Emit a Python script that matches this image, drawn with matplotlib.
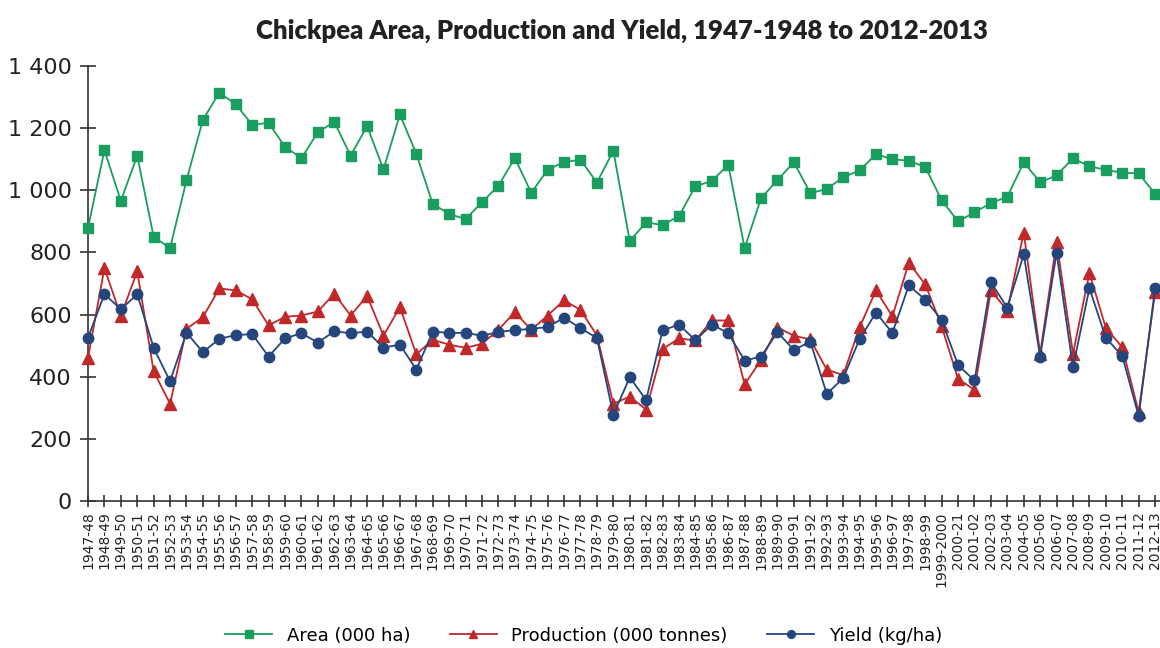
#Grafica de superficie, produccion y rendimiento del garbanzo

import matplotlib
matplotlib.use("Agg")
import matplotlib.pyplot as plt
from matplotlib.ticker import FuncFormatter

#Datos

years = ["1947-48", "1948-49", "1949-50", "1950-51", "1951-52", "1952-53", "1953-54",
         "1954-55", "1955-56", "1956-57", "1957-58", "1958-59", "1959-60", "1960-61",
         "1961-62", "1962-63", "1963-64", "1964-65", "1965-66", "1966-67", "1967-68",
         "1968-69", "1969-70", "1970-71", "1971-72", "1972-73", "1973-74", "1974-75",
         "1975-76", "1976-77", "1977-78", "1978-79", "1979-80", "1980-81", "1981-82",
         "1982-83", "1983-84", "1984-85", "1985-86", "1986-87", "1987-88", "1988-89",
         "1989-90", "1990-91", "1991-92", "1992-93", "1993-94", "1994-95", "1995-96",
         "1996-97", "1997-98", "1998-99", "1999-2000", "2000-21", "2001-02", "2002-03",
         "2003-04", "2004-05", "2005-06", "2006-07", "2007-08", "2008-09", "2009-10",
         "2010-11", "2011-12", "2012-13"]

area = [879, 1129, 966, 1111, 850, 814, 1032, 1227, 1314, 1277, 1211, 1217, 1140, 1103,
        1187, 1220, 1111, 1207, 1067, 1244, 1117, 956, 924, 907, 962, 1014, 1104, 992,
        1066, 1091, 1098, 1025, 1127, 837, 897, 888, 917, 1013, 1030, 1082, 814, 975,
        1033, 1090, 991, 1004, 1042, 1064, 1116, 1100, 1095, 1075, 968, 900, 929, 959,
        979, 1090, 1026, 1048, 1103, 1077, 1066, 1056, 1055, 988]

production = [461, 749, 596, 739, 417, 313, 554, 592, 684, 678, 649, 565, 593, 597,
              610, 667, 597, 660, 532, 624, 472, 519, 503, 493, 506, 551, 608, 551,
              597, 646, 615, 533, 313, 336, 294, 489, 523, 517, 581, 581, 375, 454,
              558, 532, 520, 423, 405, 559, 678, 594, 767, 697, 562, 393, 358, 678,
              613, 864, 474, 834, 474, 734, 557, 495, 286, 672]

yield_kg = [525, 666, 617, 665, 493, 385, 542, 479, 522, 534, 537, 465, 523, 540,
            510, 546, 540, 545, 494, 503, 423, 545, 541, 541, 532, 544, 550, 554,
            560, 590, 556, 525, 277, 398, 325, 549, 568, 517, 568, 540, 452, 465,
            543, 486, 513, 345, 395, 521, 606, 541, 694, 648, 583, 437, 388, 704,
            622, 794, 464, 799, 430, 685, 525, 467, 273, 684]

#Grafico

fig = plt.figure(figsize=(11.6, 6.48), dpi=100)
ax = fig.add_axes([88/1160, 147/648, 1072/1160, 435/648])

x = range(len(years))
ax.plot(x, area, color="#1a9e5f", lw=1.3, marker="s", ms=7.5, label="Area (000 ha)", clip_on=False, zorder=3)
ax.plot(x, production, color="#c0282a", lw=1.3, marker="^", ms=8.5, label="Production (000 tonnes)", clip_on=False, zorder=4)
ax.plot(x, yield_kg, color="#24467c", lw=1.3, marker="o", ms=7.5, label="Yield (kg/ha)", clip_on=False, zorder=5)

ax.set_xlim(0, 65.3)
ax.set_ylim(0, 1400)
ax.set_yticks(range(0, 1401, 200))
ax.yaxis.set_major_formatter(FuncFormatter(lambda v, p: f"{int(v):,}".replace(",", " ")))
ax.set_xticks(list(x))
ax.set_xticklabels(years, rotation=90, fontsize=10, color="#222222")

for s in ["top", "right"]:
    ax.spines[s].set_visible(False)
for s in ["left", "bottom"]:
    ax.spines[s].set_color("#333333")
    ax.spines[s].set_linewidth(1.2)
ax.tick_params(axis="y", direction="inout", length=11, width=1.2, color="#333333", labelsize=16, labelcolor="#222222", pad=6)
ax.tick_params(axis="x", direction="inout", length=9, width=1.2, color="#333333", pad=3)

fig.text(0.536, 0.953, "Chickpea Area, Production and Yield, 1947-1948 to 2012-2013",
         ha="center", va="center", fontsize=18.5, fontweight="heavy", color="#222222", family="Lato")

fig.legend(loc="center", bbox_to_anchor=(0.503, 0.019), ncol=3, frameon=False, fontsize=13,
           handlelength=2.6, columnspacing=2.2, markerscale=0.75)

fig.savefig("out.png", dpi=100)
